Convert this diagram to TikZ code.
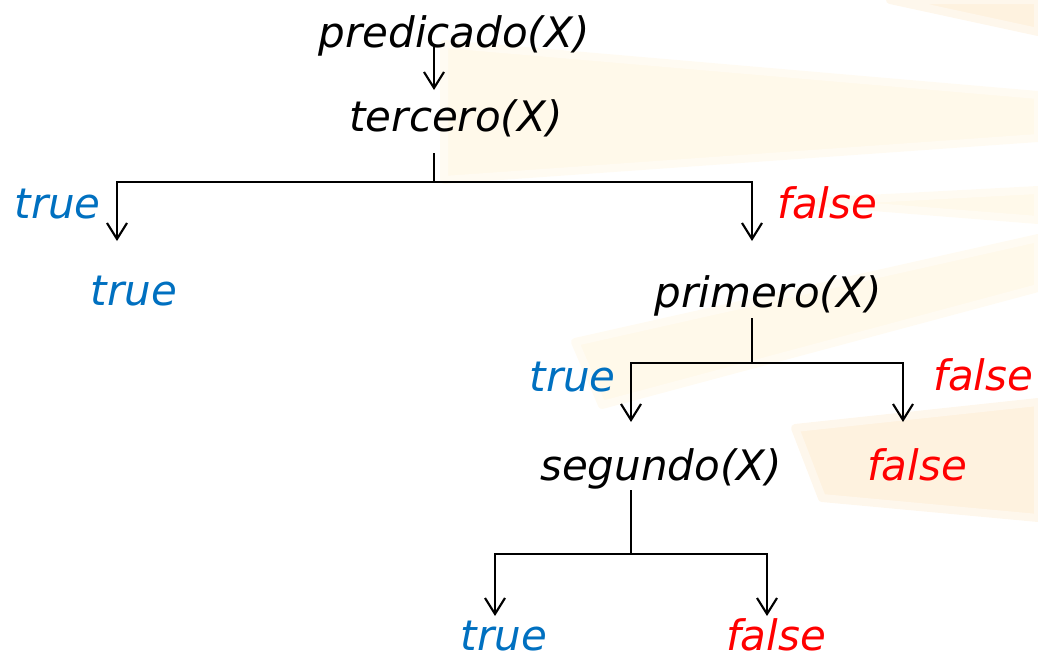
\documentclass[tikz,border=0pt]{standalone}
\usepackage{fontspec}
\setmainfont{DejaVu Sans}
\usepackage{tikz}
\usetikzlibrary{arrows.meta}
\definecolor{azul}{HTML}{0070C0}
\definecolor{rojo}{HTML}{FF0000}
\definecolor{sol}{HTML}{FEF2DF}
\definecolor{solclaro}{HTML}{FFF9EA}

\begin{document}
\begin{tikzpicture}[x=0.75pt,y=-0.75pt,
        txt/.style={font=\fontsize{31.5}{36}\selectfont\itshape,inner sep=0pt,anchor=base},
        rama/.style={line width=1.6pt},
        flecha/.style={rama,-{Straight Barb[length=12pt,width=15pt]}},
        banda/.style={fill=#1,draw=#1!60!white,line width=6pt,line join=round}]
        \useasboundingbox (0,0) rectangle (1038,657);
        % fondo
        \path[banda=solclaro] (444,44) -- (1038,95) -- (1038,138) -- (444,180) -- cycle;
        \path[banda=sol] (890,0) -- (1038,0) -- (1038,32) -- cycle;
        \path[banda=solclaro] (810,202) -- (1038,190) -- (1038,220) -- cycle;
        \path[banda=solclaro] (575,342) -- (1038,238) -- (1038,288) -- (602,405) -- cycle;
        \path[banda=sol] (795,428) -- (1038,402) -- (1038,518) -- (822,498) -- cycle;
        % nodos
        \node[txt] (pred) at (454,47) {predicado(X)};
        \node[txt] (terc) at (456,131) {tercero(X)};
        \node[txt,azul] (t1) at (134,305) {true};
        \node[txt] (prim) at (768,307) {primero(X)};
        \node[txt] (seg) at (661,480) {segundo(X)};
        \node[txt,rojo] (f2) at (917,480) {false};
        \node[txt,azul] (t3) at (504,650) {true};
        \node[txt,rojo] (f3) at (776,650) {false};
        % etiquetas
        \node[txt,azul,anchor=base east] (et1) at (101,218) {true};
        \node[txt,rojo,anchor=base west] (ef1) at (777,218) {false};
        \node[txt,azul,anchor=base east] (et2) at (616,391) {true};
        \node[txt,rojo,anchor=base west] (ef2) at (933,390) {false};
        % ramas
        \coordinate (p0) at (434,47); \coordinate (p1) at (434,90);
        \coordinate (r0) at (434,153); \coordinate (r1) at (434,182);
        \coordinate (r2) at (117,241); \coordinate (r3) at (752,241);
        \coordinate (q0) at (752,318); \coordinate (q1) at (752,363);
        \coordinate (q2) at (631,422); \coordinate (q3) at (903,422);
        \coordinate (s0) at (631,490); \coordinate (s1) at (631,554);
        \coordinate (s2) at (495,616); \coordinate (s3) at (767,616);
        \draw[flecha] (p0) -- (p1);
        \draw[rama] (r0) -- (r1);
        \draw[flecha] (r1) -| (r2);
        \draw[flecha] (r1) -| (r3);
        \draw[rama] (q0) -- (q1);
        \draw[flecha] (q1) -| (q2);
        \draw[flecha] (q1) -| (q3);
        \draw[rama] (s0) -- (s1);
        \draw[flecha] (s1) -| (s2);
        \draw[flecha] (s1) -| (s3);
\end{tikzpicture}
\end{document}
